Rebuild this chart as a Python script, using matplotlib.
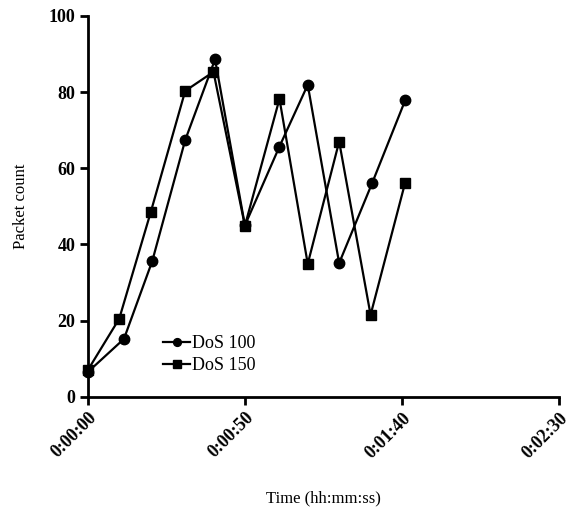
import matplotlib
matplotlib.use("Agg")
import matplotlib.pyplot as plt

t_dos100 = [0, 11.5, 20.5, 31, 40.5, 50, 61, 70, 80, 90.5, 101]
dos100 = [6.5, 15.2, 35.6, 67.4, 88.6, 45.0, 65.7, 81.9, 35.1, 56.1, 77.8]
t_dos150 = [0, 10, 20, 31, 40, 50, 61, 70, 80, 90, 101]
dos150 = [7.0, 20.5, 48.4, 80.3, 85.3, 44.9, 78.2, 34.9, 67.0, 21.5, 56.2]
xticks = [0, 50, 100, 150]
xticklabels = ["0:00:00", "0:00:50", "0:01:40", "0:02:30"]
yticks = [0, 20, 40, 60, 80, 100]

plt.rcParams['font.family'] = ['Liberation Serif', 'DejaVu Serif']
fig = plt.figure(figsize=(5.74, 5.12), dpi=100)
ax = fig.add_axes([0.153, 0.225, 0.821, 0.744])
ax.plot(t_dos100, dos100, color='black', lw=1.6, marker='o', ms=7.5, label='DoS 100', clip_on=False, zorder=3)
ax.plot(t_dos150, dos150, color='black', lw=1.6, marker='s', ms=7.5, label='DoS 150', clip_on=False, zorder=3)
ax.set_xlim(0, 150)
ax.set_ylim(0, 100)
ax.set_xticks(xticks)
ax.set_xticklabels(xticklabels, rotation=45, ha='right', rotation_mode='anchor', fontweight='bold', fontsize=13)
ax.set_yticks(yticks)
ax.set_yticklabels([str(v) for v in yticks], fontweight='bold', fontsize=13)
for s in ['top', 'right']:
    ax.spines[s].set_visible(False)
for s in ['left', 'bottom']:
    ax.spines[s].set_linewidth(2)
ax.tick_params(width=2, length=6, direction='out', pad=3)
ax.set_xlabel('Time (hh:mm:ss)', fontsize=12, labelpad=21)
ax.set_ylabel('Packet count', fontsize=12, labelpad=14)
leg = ax.legend(loc='lower left', bbox_to_anchor=(0.145, 0.04), frameon=False, fontsize=13,
                handlelength=1.5, handletextpad=0.1, borderaxespad=0, labelspacing=0.3, markerscale=0.75)
fig.savefig('out.png', dpi=100)
